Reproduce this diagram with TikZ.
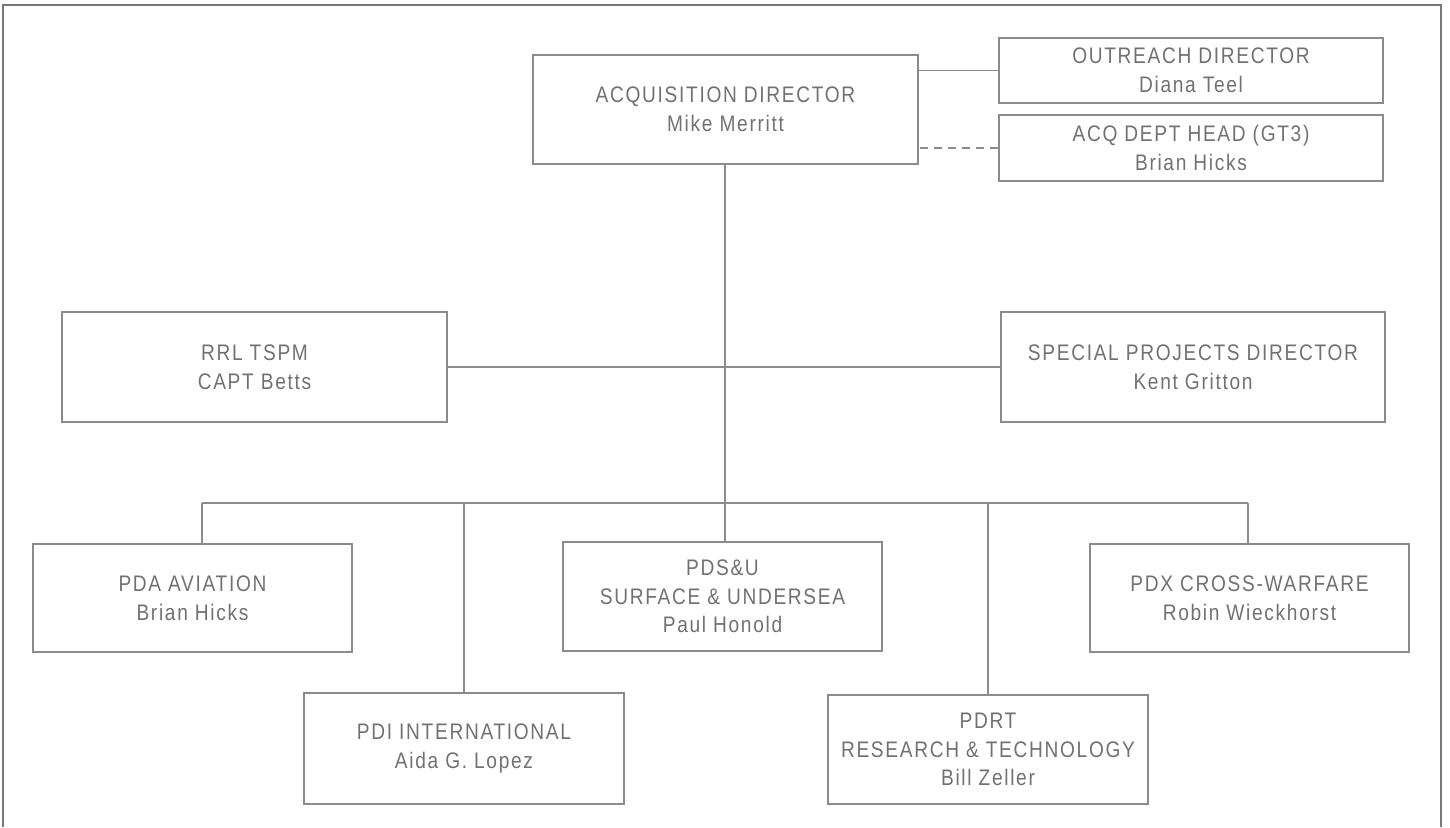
\documentclass[tikz,border=0pt]{standalone}
\usepackage{fontspec}
\setmainfont{Liberation Sans}[FakeStretch=0.85,LetterSpace=7.5]
\usepackage{xcolor}
\usepackage{tikz}
\usetikzlibrary{positioning,calc}
\definecolor{OrgText}{RGB}{112,113,116}
\definecolor{OrgLine}{RGB}{140,140,140}
\definecolor{OrgFrame}{RGB}{120,120,120}

\tikzset{
    orgbox/.style={draw=OrgLine, line width=1.2pt, align=center, text=OrgText,
        inner sep=0pt, font=\fontsize{22.5}{28.5}\selectfont},
    wide/.style={minimum width=385pt, minimum height=110pt},
    slim/.style={minimum width=384pt, minimum height=65pt},
    unit/.style={minimum width=319pt, minimum height=109pt},
    link/.style={draw=OrgLine, line width=1.2pt},
    dotlink/.style={link, dash pattern=on 8pt off 6pt}
}

\begin{document}
\begin{tikzpicture}[x=1pt,y=-1pt]
        \useasboundingbox (0,0) rectangle (1450,827);
        % cadre
        \draw[OrgFrame, line width=2pt] (3,827) -- (3,5) -- (1441,5) -- (1441,827);

        % direction
        \node[orgbox, wide, minimum height=109pt] (acq) at (725.5,109.5) {ACQUISITION DIRECTOR\\Mike Merritt};
        \node[orgbox, slim] (outreach) at (1191,70.5) {OUTREACH DIRECTOR\\Diana Teel};
        \node[orgbox, slim, minimum height=66pt] (acqhead) at (1191,148) {ACQ DEPT HEAD (GT3)\\Brian Hicks};

        % etat-major
        \node[orgbox, wide] (rrl) at (254.5,367) {RRL TSPM\\CAPT Betts};
        \node[orgbox, wide, minimum width=384pt] (special) at (1193,367) {SPECIAL PROJECTS DIRECTOR\\Kent Gritton};

        % programmes
        \node[orgbox, unit, minimum height=108pt] (pda) at (192.5,598) {PDA AVIATION\\Brian Hicks};
        \node[orgbox, unit, minimum width=320pt, minimum height=111pt] (pdi) at (464,748.5) {PDI INTERNATIONAL\\Aida G. Lopez};
        \node[orgbox, unit] (pdsu) at (722.5,596.5) {PDS\&U\\SURFACE \& UNDERSEA\\Paul Honold};
        \node[orgbox, unit, minimum width=320pt] (pdrt) at (988,749.5) {PDRT\\RESEARCH \& TECHNOLOGY\\Bill Zeller};
        \node[orgbox, unit, minimum height=108pt] (pdx) at (1249.5,598) {PDX CROSS-WARFARE\\Robin Wieckhorst};

        % barre de repartition
        \coordinate (hub) at (725,503);
        \coordinate (b1) at (202,503);
        \coordinate (b2) at (464,503);
        \coordinate (b4) at (988,503);
        \coordinate (b5) at (1248,503);

        \draw[link] (outreach.west) -- (outreach.west -| acq.east);
        \draw[dotlink] (acqhead.west) -- (acqhead.west -| acq.east);
        \draw[link] (rrl.east) -- (special.west);
        \draw[link] (acq.south -| hub) -- (hub);
        \draw[link] (b1) -- (b5);
        \draw[link] (b1) -- (b1 |- pda.north);
        \draw[link] (b2) -- (b2 |- pdi.north);
        \draw[link] (hub) -- (hub |- pdsu.north);
        \draw[link] (b4) -- (b4 |- pdrt.north);
        \draw[link] (b5) -- (b5 |- pdx.north);
    \end{tikzpicture}
\end{document}
